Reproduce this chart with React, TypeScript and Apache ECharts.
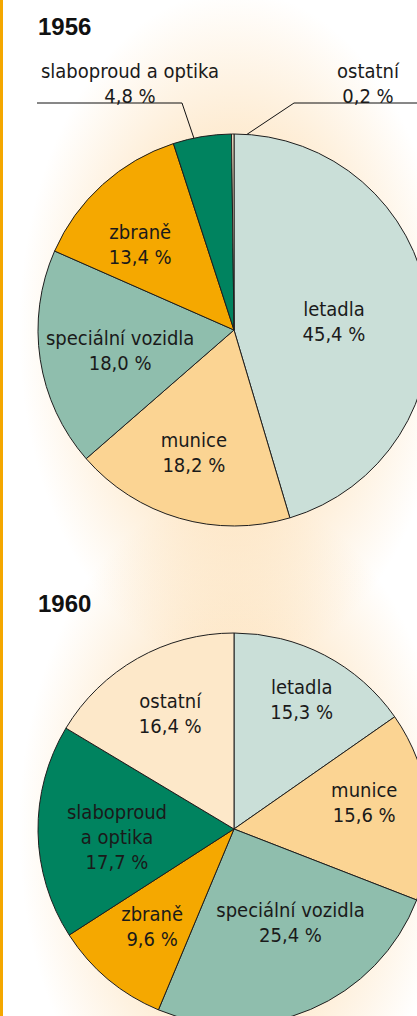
import React, { useEffect, useRef } from "react";
import * as echarts from "echarts";

// ---------- data ----------
const CATEGORIES = ["letadla", "munice", "speciální vozidla", "zbraně", "slaboproud a optika", "ostatní"];
const YEARS = ["1956", "1960"];
const SHARES_1956 = [45.4, 18.2, 18.0, 13.4, 4.8, 0.2];
const SHARES_1960 = [15.3, 15.6, 25.4, 9.6, 17.7, 16.4];
const COLORS = ["#cadfd8", "#fbd493", "#8fbead", "#f5a800", "#00835f", "#fde8c9"];

// ---------- layout / style ----------
const W = 417;
const H = 1016;
const CX = 234;
const CYS = [330, 829];
const R = 196;
const FONT = "'Liberation Sans Narrow', 'Arial Narrow', 'DejaVu Sans Condensed', sans-serif";
const TITLE_FONT = "'Liberation Sans', Arial, sans-serif";
const TEXT = "#1a1a1a";
const LINE_H = 25;

// nudges of inside labels relative to their default (mid-radius) spot
const NUDGES = [
  [[0, 6], [-12, 26], [-14, 5], [-26, -11], [0, 0], [0, 0]],
  [[21, -40], [30, -14], [17, 1], [-17, 20], [-16, 6], [-14, -28]],
];
// outer (leader-line) labels of 1956
const LEADER_Y = 103;
const OUTER_1956: Record<number, { labelX: number; labelY: number; lineEnd: number; elbowX: number; depth: number }> = {
  4: { labelX: 130, labelY: 83, lineEnd: 37, elbowX: 182, depth: 0.74 },
  5: { labelX: 368, labelY: 83, lineEnd: 417, elbowX: 294, depth: 0.95 },
};

function midAngles(values: number[]) {
  const total = values.reduce((a, b) => a + b, 0);
  let acc = 0;
  return values.map((v) => {
    const m = ((acc + v / 2) / total) * 360;
    acc += v;
    return m;
  });
}

function fmt(v: number) {
  return v.toFixed(1).replace(".", ",") + " %";
}

export default function App() {
  const ref = useRef<HTMLDivElement>(null);
  useEffect(() => {
    if (!ref.current) return;
    const chart = echarts.init(ref.current, null, { renderer: "svg" });
    const sets = [SHARES_1956, SHARES_1960];
    const series = sets.map((values, si) => {
      const cy = CYS[si];
      const mids = midAngles(values);
      const outer = si === 0 ? OUTER_1956 : {};
      return {
        type: "pie",
        center: [CX, cy],
        radius: R,
        startAngle: 90,
        clockwise: true,
        avoidLabelOverlap: false,
        silent: true,
        itemStyle: { borderColor: "#1e1e1e", borderWidth: 1 },
        label: {
          show: true,
          position: "inside",
          color: TEXT,
          fontFamily: FONT,
          fontSize: 20,
          lineHeight: LINE_H,
          align: "center",
          textBorderWidth: 0,
          formatter: (p: any) => {
            const name = si === 1 ? p.name.replace(" a ", "\na ") : p.name;
            return name + "\n" + fmt(p.value);
          },
        },
        labelLine: { show: false },
        data: values.map((v, i) => {
          const d: any = { name: CATEGORIES[i], value: v, itemStyle: { color: COLORS[i] } };
          if ((outer as any)[i]) {
            d.label = { position: "outside" };
            d.labelLine = { show: true, lineStyle: { color: "#111", width: 1 } };
          }
          return d;
        }),
        labelLayout: (p: any) => {
          const k = p.dataIndex;
          const o = (outer as any)[k];
          if (o) {
            const a = (mids[k] * Math.PI) / 180;
            const p0 = [CX + o.depth * R * Math.sin(a), cy - o.depth * R * Math.cos(a)];
            return {
              x: o.labelX,
              y: o.labelY,
              align: "center",
              verticalAlign: "middle",
              labelLinePoints: [p0, [o.elbowX, LEADER_Y], [o.lineEnd, LEADER_Y]],
            };
          }
          const n = NUDGES[si][k];
          return { dx: n[0], dy: n[1] };
        },
      };
    });
    chart.setOption({
      animation: false,
      backgroundColor: "transparent",
      title: YEARS.map((y, i) => ({
        text: y,
        left: 38,
        top: i === 0 ? 14 : 591,
        padding: 0,
        textStyle: { fontFamily: TITLE_FONT, fontWeight: "bold", fontSize: 24, color: "#111" },
      })),
      series,
    });
    return () => chart.dispose();
  }, []);

  const bg = [
    "linear-gradient(to right, #f4a700 0px, #f4a700 3px, rgba(255,255,255,0) 3px)",
    "radial-gradient(ellipse 215px 340px at 234px 330px, rgba(252,214,160,0.85) 0%, rgba(252,214,160,0.45) 60%, rgba(252,214,160,0) 100%)",
    "radial-gradient(ellipse 215px 340px at 234px 829px, rgba(252,214,160,0.85) 0%, rgba(252,214,160,0.45) 60%, rgba(252,214,160,0) 100%)",
    "#ffffff",
  ].join(", ");

  return (
    <div style={{ position: "absolute", left: 0, top: 0, width: W, height: H, background: bg, overflow: "hidden" }}>
      <div ref={ref} style={{ width: W, height: H }} />
    </div>
  );
}
